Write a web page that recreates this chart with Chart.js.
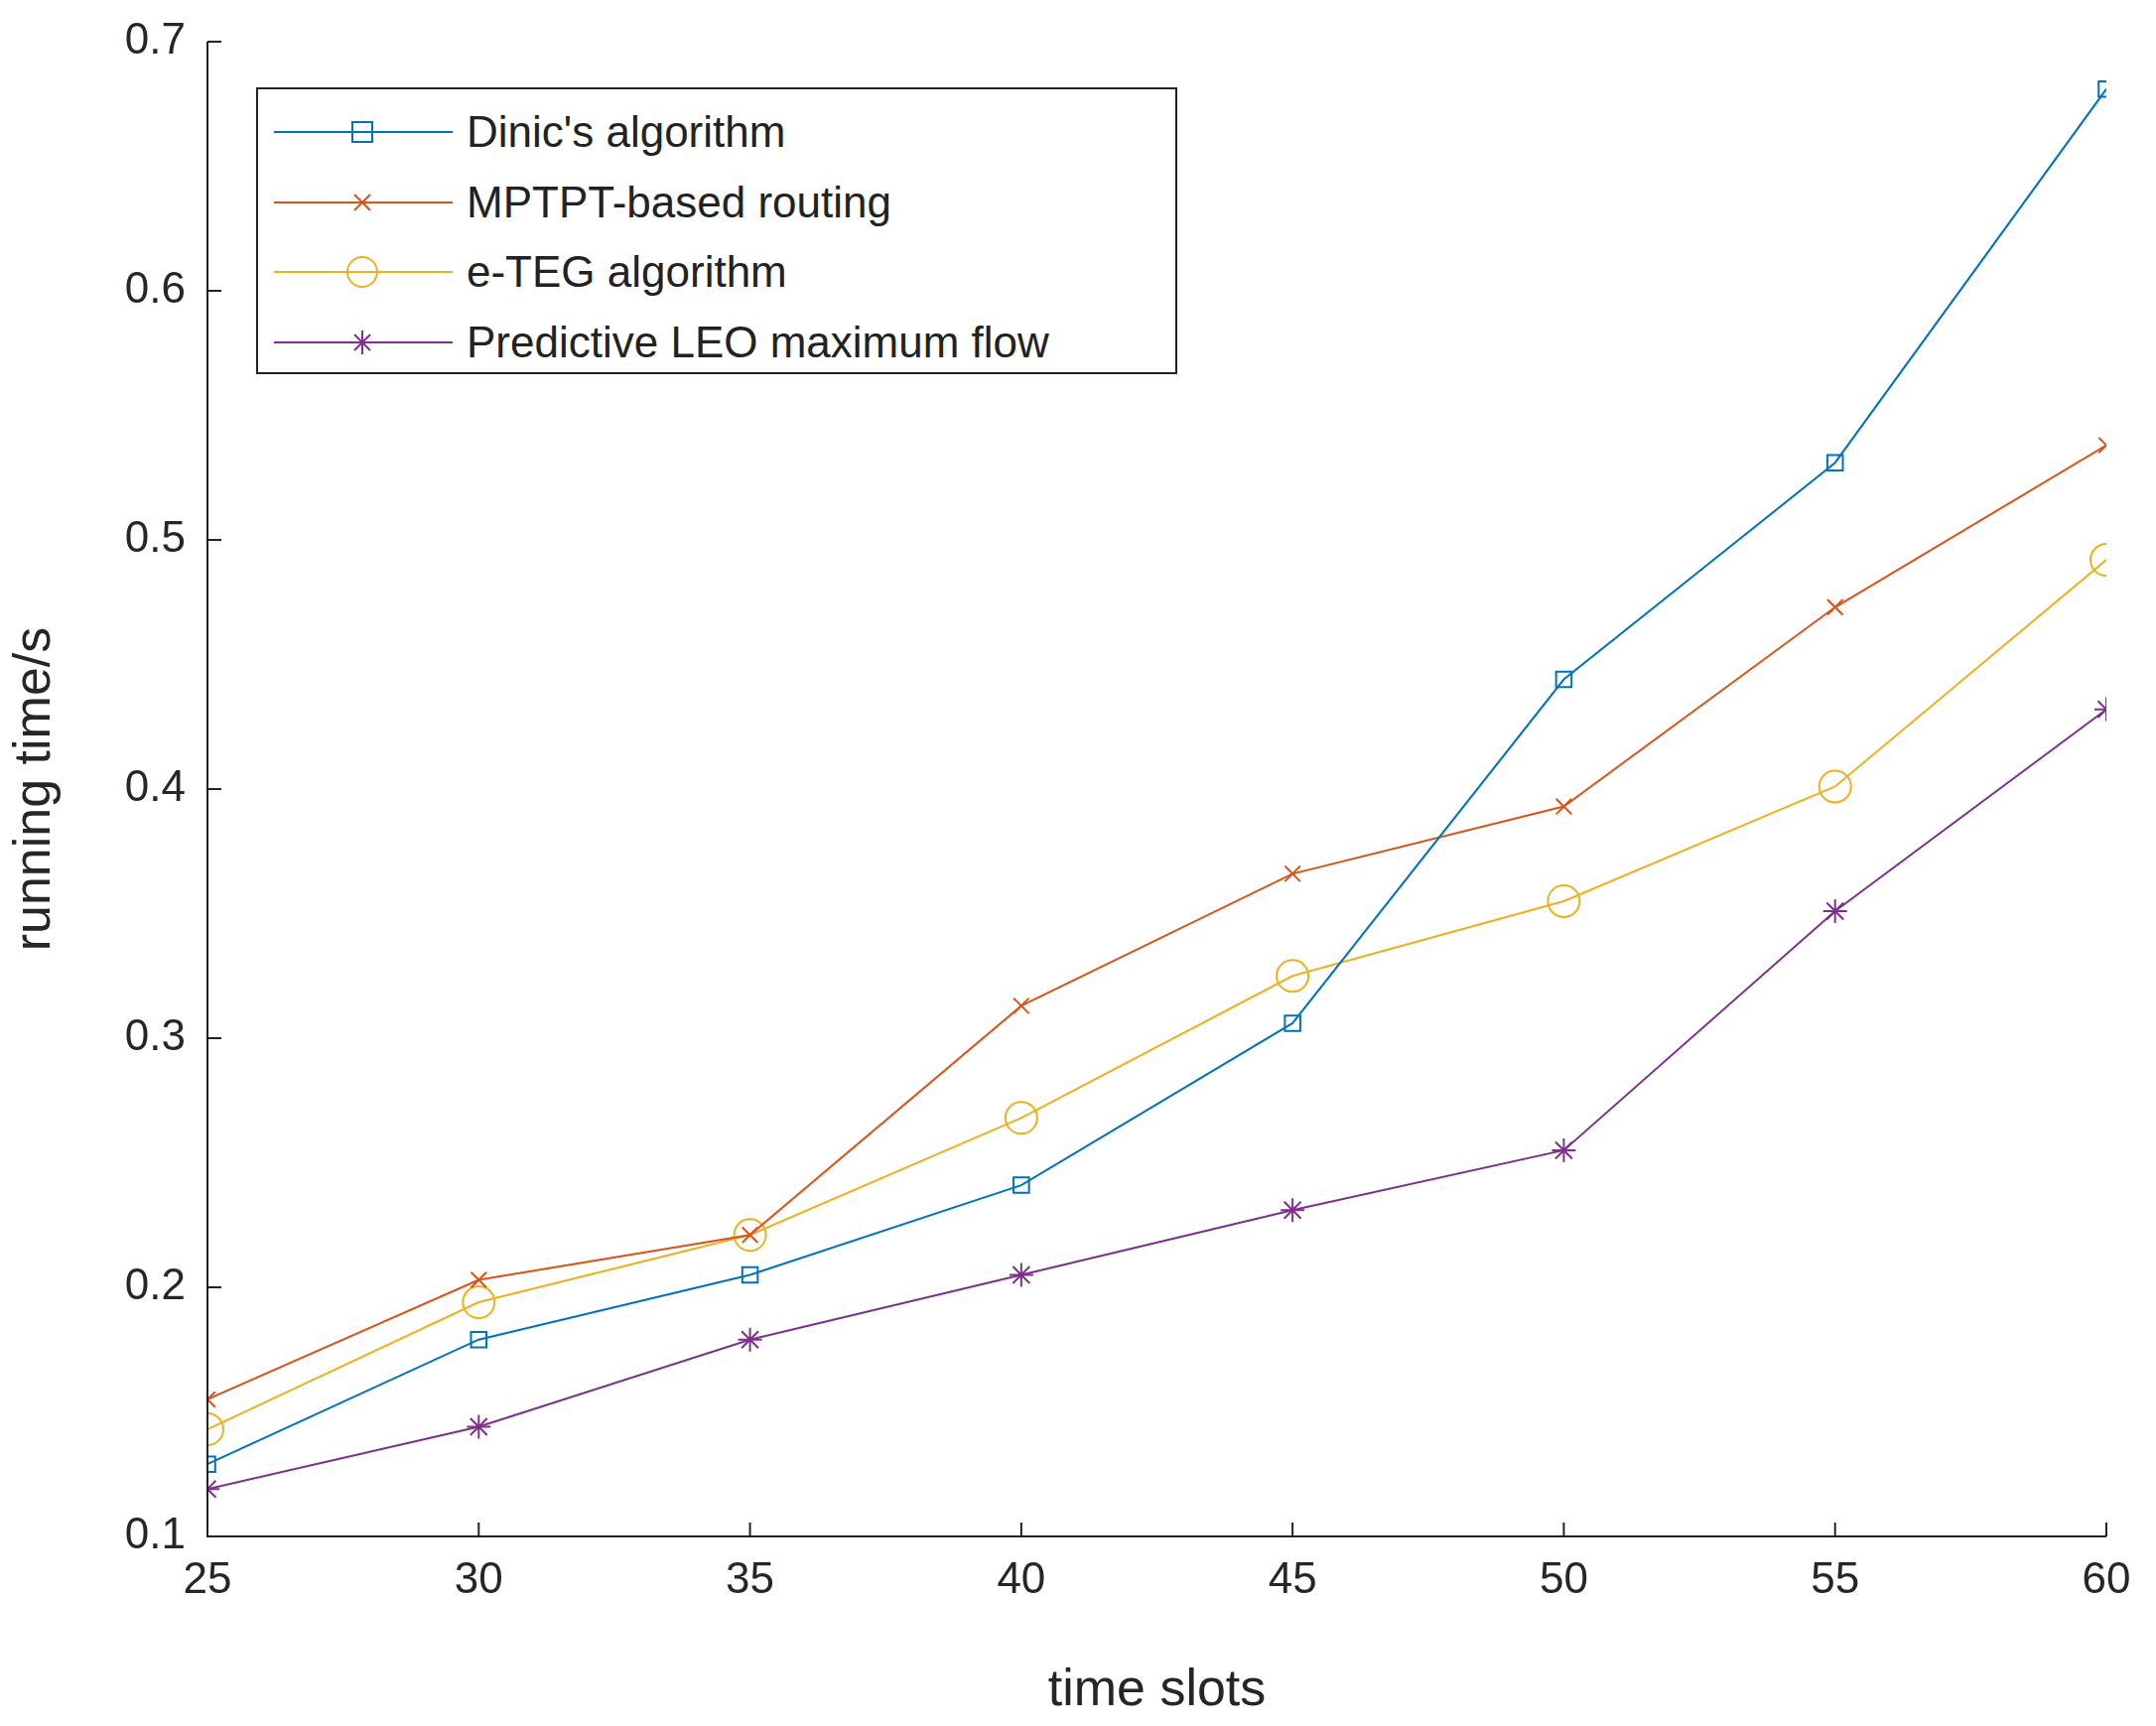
<!DOCTYPE html>
<html>
<head>
<meta charset="utf-8">
<script src="https://cdn.jsdelivr.net/npm/chart.js@4/dist/chart.umd.min.js"></script>
<style>
  body { margin: 0; background: #fff; font-family: Arial, "Liberation Sans", sans-serif; }
  #wrap { position: relative; width: 2172px; height: 1739px; }
  #legend { position: absolute; left: 258px; top: 88px; width: 928px; height: 289px;
    border: 2px solid #222; background: #fff; box-sizing: border-box; padding-top: 8px; }
  .row { display: flex; align-items: center; height: 70.5px; font-size: 44px; color: #222; }
  .row svg { margin-left: 16px; margin-right: 14px; }
</style>
</head>
<body>
<div id="wrap">
  <canvas id="chart" width="2172" height="1739"></canvas>
  <div id="legend"></div>
</div>
<script>
const slots = [25, 30, 35, 40, 45, 50, 55, 60];
const dinic = [0.129, 0.179, 0.205, 0.241, 0.306, 0.444, 0.531, 0.681];
const mptpt = [0.155, 0.203, 0.221, 0.313, 0.366, 0.393, 0.473, 0.538];
const eteg = [0.143, 0.194, 0.221, 0.268, 0.325, 0.355, 0.401, 0.492];
const predictive = [0.119, 0.144, 0.179, 0.205, 0.231, 0.255, 0.351, 0.432];
const yTicks = [0.1, 0.2, 0.3, 0.4, 0.5, 0.6, 0.7];

const series = [
    { label: "Dinic's algorithm", data: dinic, color: '#0072BD', style: 'rect', r: 11 },
    { label: 'MPTPT-based routing', data: mptpt, color: '#D95319', style: 'crossRot', r: 11 },
    { label: 'e-TEG algorithm', data: eteg, color: '#EDB120', style: 'circle', r: 16 },
    { label: 'Predictive LEO maximum flow', data: predictive, color: '#7E2F8E', style: 'star', r: 12 }
];

const inwardTicks = {
    id: 'inwardTicks',
    afterDraw(chart) {
        const { ctx, chartArea: a, scales: { x, y } } = chart;
        ctx.save();
        ctx.strokeStyle = '#222';
        ctx.lineWidth = 2;
        ctx.beginPath();
        ctx.moveTo(a.left, a.top); ctx.lineTo(a.left, a.bottom); ctx.lineTo(a.right, a.bottom);
        slots.forEach(v => { const px = x.getPixelForValue(v); ctx.moveTo(px, a.bottom); ctx.lineTo(px, a.bottom - 14); });
        yTicks.forEach(v => { const py = y.getPixelForValue(v); ctx.moveTo(a.left, py); ctx.lineTo(a.left + 14, py); });
        ctx.stroke();
        ctx.restore();
    }
};

new Chart(document.getElementById('chart').getContext('2d'), {
    type: 'line',
    data: {
        datasets: series.map(s => ({
            label: s.label,
            data: s.data.map((v, i) => ({ x: slots[i], y: v })),
            borderColor: s.color,
            backgroundColor: 'transparent',
            borderWidth: 2,
            pointStyle: s.style,
            pointRadius: s.r,
            pointBorderColor: s.color,
            pointBackgroundColor: 'transparent',
            pointBorderWidth: 2,
            tension: 0
        }))
    },
    options: {
        responsive: false,
        animation: false,
        layout: { padding: { top: 42, right: 50, left: 0, bottom: 0 } },
        plugins: { legend: { display: false }, tooltip: { enabled: false } },
        scales: {
            x: {
                type: 'linear', min: 25, max: 60,
                afterBuildTicks: s => { s.ticks = slots.map(v => ({ value: v })); },
                afterFit: s => { s.height = 191; },
                grid: { display: false },
                border: { display: false },
                ticks: { color: '#262626', font: { size: 44, family: 'Arial' }, padding: 10 },
                title: { display: true, text: 'time slots', color: '#262626', font: { size: 52, family: 'Arial' }, padding: { top: 4 } }
            },
            y: {
                min: 0.1, max: 0.7,
                afterBuildTicks: s => { s.ticks = yTicks.map(v => ({ value: v })); },
                afterFit: s => { s.width = 209; },
                grid: { display: false },
                border: { display: false },
                ticks: { color: '#262626', font: { size: 44, family: 'Arial' }, padding: 14, callback: v => v.toFixed(1) },
                title: { display: true, text: 'running time/s', color: '#262626', font: { size: 52, family: 'Arial' }, padding: { bottom: 6 } }
            }
        }
    },
    plugins: [inwardTicks]
});

function markerSvg(s) {
    const c = s.color;
    let m = '';
    if (s.style === 'rect') m = `<rect x="79" y="17" width="20" height="20" fill="none" stroke="${c}" stroke-width="2"/>`;
    if (s.style === 'crossRot') m = `<path d="M81 19L97 35M97 19L81 35" stroke="${c}" stroke-width="2"/>`;
    if (s.style === 'circle') m = `<circle cx="89" cy="27" r="15" fill="none" stroke="${c}" stroke-width="2"/>`;
    if (s.style === 'star') m = `<path d="M89 15V39M77 27H101M81 19L97 35M97 19L81 35" stroke="${c}" stroke-width="2"/>`;
    return `<svg width="180" height="54"><line x1="0" y1="27" x2="180" y2="27" stroke="${c}" stroke-width="2"/>${m}</svg>`;
}
document.getElementById('legend').innerHTML = series.map(s =>
    `<div class="row">${markerSvg(s)}<span>${s.label}</span></div>`).join('');
</script>
</body>
</html>
